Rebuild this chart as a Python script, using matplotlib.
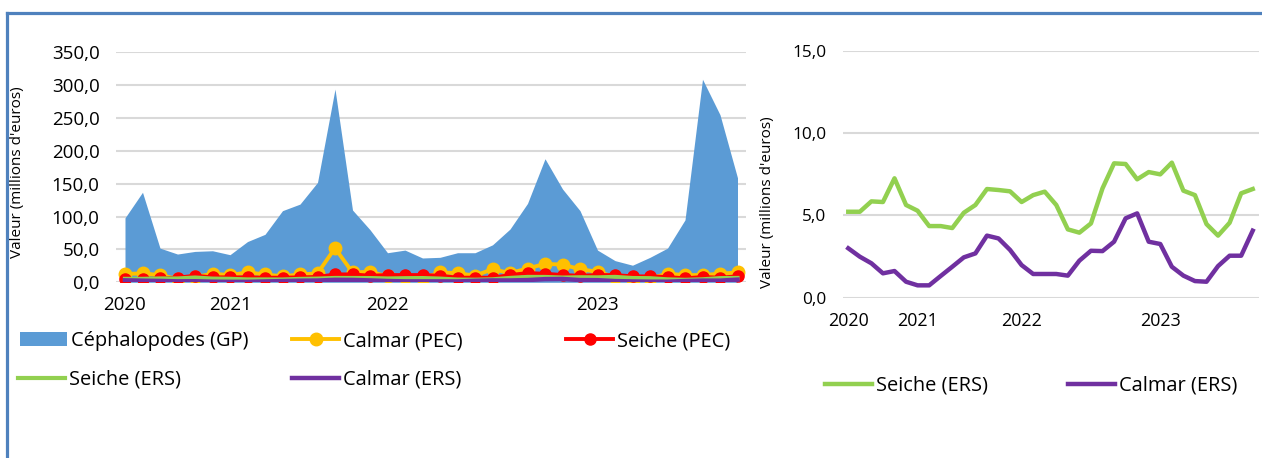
import matplotlib
matplotlib.use("Agg")
import matplotlib.pyplot as plt
import matplotlib.lines as mlines
import matplotlib.patches as mpatches
from matplotlib.ticker import FuncFormatter
import numpy as np

plt.rcParams['font.family'] = ['Open Sans', 'DejaVu Sans']

# Monthly periods (36 categories), only some carry a year label
n_periods = 36
year_labels = ['2020', '2021', '2022', '2023']
year_positions = [0, 6, 15, 27]

# Values in millions of euros
cephalopodes_gp = [98, 137, 52, 43, 47, 48, 42, 62, 73, 109, 119, 152,
                   294, 110, 80, 45, 49, 37, 38, 45, 45, 57, 81, 120,
                   188, 142, 109, 49, 33, 26, 38, 52, 95, 309, 255, 159]
calmar_pec = [12.7, 13.5, 11, 5, 8, 13, 11, 15, 12, 9, 12, 13.5,
              52, 15, 16, 9, 8, 6, 15, 14, 10, 20, 14, 21,
              28, 27, 20, 16, 8, 4, 6, 13, 11, 11, 13, 15]
seiche_pec = [5, 5, 6, 7, 10, 7.5, 7.5, 7.5, 7, 7, 7.5, 8,
              12, 12, 10, 11, 11, 11, 10, 7, 7, 7, 11, 14,
              13, 11, 10, 11, 11, 9, 9, 8, 6, 8, 7, 9]
seiche_ers = [5.22, 5.22, 5.85, 5.81, 7.25, 5.63, 5.28, 4.35, 4.35, 4.23, 5.16, 5.63,
              6.6, 6.54, 6.46, 5.81, 6.23, 6.44, 5.63, 4.15, 3.95, 4.51, 6.64, 8.16,
              8.12, 7.19, 7.63, 7.49, 8.2, 6.5, 6.23, 4.47, 3.77, 4.55, 6.34, 6.6]
calmar_ers = [3.0, 2.49, 2.09, 1.48, 1.62, 0.97, 0.75, 0.75, 1.32, 1.88, 2.45, 2.69,
              3.77, 3.6, 2.9, 1.98, 1.44, 1.44, 1.44, 1.34, 2.25, 2.85, 2.83, 3.4,
              4.82, 5.12, 3.4, 3.26, 1.88, 1.34, 1.01, 0.97, 1.92, 2.55, 2.55, 4.07]

colors = {
    'gp': '#5B9BD5',
    'calmar_pec': '#FFC000',
    'seiche_pec': '#FF0000',
    'seiche_ers': '#92D050',
    'calmar_ers': '#7030A0',
    'grid': '#D9D9D9',
    'frame': '#4F81BD',
}

W, H = 1262, 458
fig = plt.figure(figsize=(W / 100, H / 100), dpi=100)

x = np.arange(n_periods)
comma_fmt = FuncFormatter(lambda v, pos: f"{v:.1f}".replace('.', ','))


def style_axis(ax, ymax, ystep, tick_size, xtick_size, ypad, xpad):
    ax.set_xlim(-0.5, n_periods - 0.5)
    ax.set_ylim(0, ymax)
    ax.set_yticks(np.arange(0, ymax + 0.01, ystep))
    ax.yaxis.set_major_formatter(comma_fmt)
    ax.set_xticks(year_positions)
    ax.set_xticklabels(year_labels)
    ax.tick_params(axis='y', length=0, labelsize=tick_size, pad=ypad)
    ax.tick_params(axis='x', length=0, labelsize=xtick_size, pad=xpad)
    for s in ax.spines.values():
        s.set_visible(False)
    ax.set_axisbelow(True)
    ax.yaxis.grid(True, color=colors['grid'], linewidth=1.5)
    ax.set_ylabel("Valeur (millions d'euros)", fontsize=11)


# ---- Left chart ----
ax1 = fig.add_axes([116.25 / W, (H - 282.3) / H, 630 / W, 230 / H])
area = ax1.fill_between(x, cephalopodes_gp, color=colors['gp'], linewidth=0)
l_cal_pec, = ax1.plot(x, calmar_pec, color=colors['calmar_pec'], lw=2.8,
                      marker='o', ms=9)
l_sei_pec, = ax1.plot(x, seiche_pec, color=colors['seiche_pec'], lw=2.8,
                      marker='o', ms=8)
l_sei_ers, = ax1.plot(x, seiche_ers, color=colors['seiche_ers'], lw=3)
l_cal_ers, = ax1.plot(x, calmar_ers, color=colors['calmar_ers'], lw=3.2)
style_axis(ax1, 350, 50, 13.5, 13.5, 12, 10)
ax1.yaxis.set_label_coords(-0.145, 0.478)

# ---- Right chart ----
ax2 = fig.add_axes([842.5 / W, (H - 297.7) / H, 416 / W, 247 / H])
r_sei_ers, = ax2.plot(x, seiche_ers, color=colors['seiche_ers'], lw=3.2)
r_cal_ers, = ax2.plot(x, calmar_ers, color=colors['calmar_ers'], lw=3.2)
style_axis(ax2, 15, 5, 12.4, 12.9, 11.5, 10)
ax2.yaxis.set_label_coords(-0.162, 0.387)


def add_key(handle, label, x_px, y_px):
    fig.legend(handles=[handle], labels=[label], loc='center left',
               bbox_to_anchor=(x_px / W, 1 - y_px / H), frameon=False,
               borderpad=0, borderaxespad=0, handlelength=2.35,
               handletextpad=0.2, fontsize=14.4)


gp_patch = mpatches.Patch(color=colors['gp'], linewidth=0)
add_key(gp_patch, 'Céphalopodes (GP)', 20, 341)
add_key(l_cal_pec, 'Calmar (PEC)', 292, 341)
add_key(l_sei_pec, 'Seiche (PEC)', 566, 341)
add_key(l_sei_ers, 'Seiche (ERS)', 18, 380)
add_key(l_cal_ers, 'Calmar (ERS)', 292, 380)
add_key(r_sei_ers, 'Seiche (ERS)', 825, 386)
add_key(r_cal_ers, 'Calmar (ERS)', 1068, 386)

# Frame lines (top and left)
fig.add_artist(mlines.Line2D([6.5 / W, 1], [1 - 12.5 / H, 1 - 12.5 / H],
                             color=colors['frame'], lw=2.3,
                             transform=fig.transFigure))
fig.add_artist(mlines.Line2D([6.5 / W, 6.5 / W], [0, 1 - 12.5 / H],
                             color=colors['frame'], lw=2.3,
                             transform=fig.transFigure))

fig.savefig('out.png', dpi=100)
